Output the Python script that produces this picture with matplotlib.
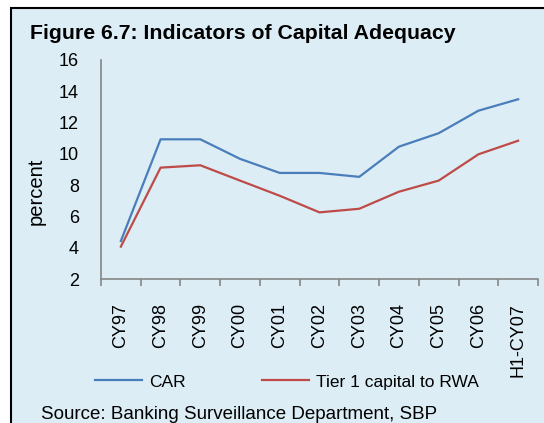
import matplotlib
matplotlib.use('Agg')
import matplotlib.pyplot as plt
from matplotlib.patches import Rectangle

plt.rcParams['font.family'] = ['Liberation Sans', 'DejaVu Sans']

years = ['CY97', 'CY98', 'CY99', 'CY00', 'CY01', 'CY02', 'CY03',
         'CY04', 'CY05', 'CY06', 'H1-CY07']
car = [4.43, 10.93, 10.93, 9.68, 8.78, 8.78, 8.53, 10.46, 11.32, 12.76, 13.49]
tier1 = [4.07, 9.12, 9.27, 8.29, 7.32, 6.26, 6.49, 7.58, 8.29, 9.97, 10.84]

bg = '#dcedf5'
axis_grey = '#868686'

fig = plt.figure(figsize=(5.44, 4.23), dpi=100)
fig.patch.set_facecolor('white')

# background panel with black border on top and left
panel = Rectangle((11 / 544, -0.05), 1.1, 1.05 - 8.3 / 423,
                  transform=fig.transFigure, facecolor=bg,
                  edgecolor='black', linewidth=1.5, zorder=-1)
fig.patches.append(panel)

ax = fig.add_axes([101 / 544, 1 - 279 / 423, 437 / 544, 219 / 423])
ax.set_facecolor('none')
ax.set_zorder(2)

x = range(len(years))
ax.plot(x, car, color='#4a7ebb', linewidth=1.6, label='CAR')
ax.plot(x, tier1, color='#be4b48', linewidth=1.6, label='Tier 1 capital to RWA')

ax.set_xlim(-0.5, len(years) - 0.5)
ax.set_ylim(2, 16)
ax.set_yticks(range(2, 17, 2))
ax.set_xticks(list(x))
ax.set_xticklabels(years, rotation=90, fontsize=13)
ax.set_xticks([i - 0.5 for i in range(len(years) + 1)], minor=True)
ax.tick_params(axis='x', which='major', length=0, pad=17.5)
ax.tick_params(axis='x', which='minor', length=5, width=1.2,
               color=axis_grey, direction='out')
ax.tick_params(axis='y', length=0, pad=16, labelsize=13)

for side in ['top', 'right']:
    ax.spines[side].set_visible(False)
for side in ['left', 'bottom']:
    ax.spines[side].set_color(axis_grey)
    ax.spines[side].set_linewidth(1.2)

fig.text(36 / 544, 1 - 191 / 423, 'percent', rotation=90, fontsize=14.5,
         ha='center', va='center')

fig.text(30 / 544, 1 - 33.5 / 423, 'Figure 6.7: Indicators of Capital Adequacy',
         fontsize=15.3, fontweight='bold', ha='left', va='center')

fig.legend(loc='center left', bbox_to_anchor=(95 / 544, 1 - 382 / 423),
           ncol=2, frameon=False, fontsize=12.5, handlelength=2.7,
           handletextpad=0.4, columnspacing=4.4, borderpad=0,
           borderaxespad=0)

fig.text(41 / 544, 1 - 414 / 423, 'Source: Banking Surveillance Department, SBP',
         fontsize=13.5, ha='left', va='center')

fig.savefig('out.png', dpi=100)
